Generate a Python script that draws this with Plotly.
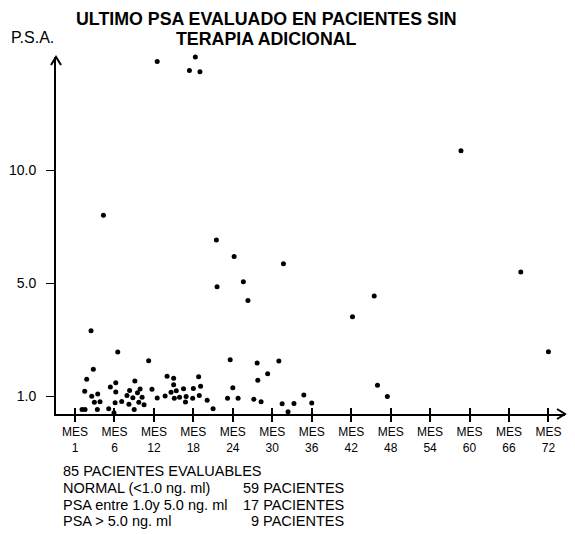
import numpy as np
import plotly.graph_objects as go

# Axis ticks (the chart uses equally spaced, non-linear tick positions)
month_ticks = [1, 6, 12, 18, 24, 30, 36, 42, 48, 54, 60, 66, 72]
x_tick_labels = [f"MES<br>{m}" for m in month_ticks]
psa_ticks = [1.0, 5.0, 10.0]
y_tick_labels = ["1.0", "5.0", "10.0"]

# Patients: month of last evaluation, last PSA value (ng/ml)
months = [12.5, 18.3, 17.4, 19.0, 4.6, 21.5, 24.2, 31.7, 25.6, 21.6, 26.3, 3.03,
          42.2, 45.5, 58.7, 67.8, 72.0, 46.0, 47.5,
          6.5, 11.2, 3.32, 2.48, 6.2, 9.1, 5.48, 2.23, 6.2, 9.9, 8.3, 3.12, 3.88,
          9.5, 7.9, 8.8, 10.2, 3.45, 4.17, 6.1, 7.1, 8.2, 9.7, 10.5, 2.27, 1.89,
          3.83, 5.27, 5.94, 9.0,
          23.6, 14.0, 15.0, 18.8, 15.0, 11.7, 16.5, 18.0, 19.1, 15.4, 14.6, 12.5,
          13.7, 15.1, 15.9, 16.9, 17.9, 18.9, 16.8, 20.1, 21.0, 23.2, 24.0,
          27.7, 31.0, 29.3, 27.8, 24.8, 27.2, 28.3, 31.5, 33.3, 34.8, 36.0, 32.4]
psa = [14.8, 15.0, 14.4, 14.35, 8.0, 6.9, 6.17, 5.85, 5.06, 4.87, 4.38, 3.31,
       3.81, 4.54, 10.85, 5.49, 2.57, 1.38, 0.98,
       2.56, 2.25, 1.95, 1.59, 1.47, 1.53, 1.32, 1.17, 1.14, 1.25, 1.20, 0.99, 1.07,
       1.12, 1.02, 0.94, 0.96, 0.78, 0.80, 0.76, 0.81, 0.71, 0.78, 0.69, 0.52, 0.52,
       0.52, 0.55, 0.41, 0.52,
       2.28, 1.70, 1.63, 1.68, 1.40, 1.24, 1.26, 1.27, 1.35, 1.19, 1.13, 0.93,
       1.00, 0.92, 0.96, 0.98, 0.92, 1.02, 0.79, 0.85, 0.55, 0.92, 1.29,
       2.17, 2.24, 1.79, 1.56, 0.92, 0.89, 0.80, 0.73, 0.74, 1.04, 0.75, 0.44]

summary_left = ["85 PACIENTES EVALUABLES", "NORMAL (<1.0 ng. ml)",
                "PSA entre 1.0y 5.0 ng. ml", "PSA > 5.0 ng. ml"]
summary_right = ["", "59 PACIENTES", "17 PACIENTES", "9 PACIENTES"]

# the chart's own scales: equal spacing between labelled ticks
x_pos = np.interp(months, month_ticks, np.arange(len(month_ticks)))
y_pos = np.interp(psa, [0.0, 1.0, 5.0, 10.0, 20.0], [-0.25, 0.0, 1.0, 2.0, 4.0])
y_tick_pos = np.interp(psa_ticks, [0.0, 1.0, 5.0, 10.0, 20.0], [-0.25, 0.0, 1.0, 2.0, 4.0])

FONT = "Liberation Sans, Arial, sans-serif"
XR = [-0.482, 12.42]
YR = [-0.159, 3.0]

fig = go.Figure()
fig.add_trace(go.Scatter(x=x_pos, y=y_pos, mode="markers",
                         marker=dict(size=5, color="black"),
                         cliponaxis=False, showlegend=False, hoverinfo="skip"))
fig.add_trace(go.Scatter(x=[], y=[], xaxis="x2", showlegend=False))

# the page has an 8px body margin, so the figure is 8px smaller than the window
fig.update_layout(
    template="none",
    width=567, height=526,
    margin=dict(l=48, r=10, t=49, b=120, autoexpand=False),
    paper_bgcolor="white", plot_bgcolor="white",
    font=dict(family=FONT, color="black"),
    xaxis=dict(range=XR, tickvals=list(range(len(month_ticks))), ticktext=x_tick_labels,
               ticks="outside", ticklen=6, tickwidth=1.5, tickcolor="black",
               showline=True, linewidth=2, linecolor="black", automargin=False,
               showgrid=False, zeroline=False, tickfont=dict(size=12)),
    xaxis2=dict(range=XR, overlaying="x", anchor="y", side="bottom",
                tickvals=list(range(len(month_ticks))), ticks="inside", ticklen=6,
                tickwidth=1.5, tickcolor="black", showticklabels=False, automargin=False,
                showgrid=False, zeroline=False, showline=False),
    yaxis=dict(range=YR, tickvals=list(y_tick_pos), ticktext=y_tick_labels,
               ticks="outside", ticklen=8, tickwidth=1, tickcolor="black",
               ticklabelstandoff=7, automargin=False,
               showline=True, linewidth=2, linecolor="black",
               showgrid=False, zeroline=False, tickfont=dict(size=14)),
)

# arrow heads of the axes (paper refs so they are not clipped)
fig.add_shape(type="path", xref="paper", yref="paper", xsizemode="pixel", ysizemode="pixel",
              xanchor=0, yanchor=1, path="M -5,-8 L 0,0 L 5,-8",
              line=dict(color="black", width=2))
fig.add_shape(type="path", xref="paper", yref="paper", xsizemode="pixel", ysizemode="pixel",
              xanchor=1, yanchor=0, path="M -8,5 L 0,0 L -8,-5",
              line=dict(color="black", width=2))

def py2paper(py):
    return (414 - py) / 357.0

def px2paper(px):
    return (px - 56) / 509.0

ann = [
    dict(text="<b>ULTIMO PSA EVALUADO EN PACIENTES SIN</b>", x=px2paper(266), y=py2paper(19),
         xanchor="center", yanchor="middle", font=dict(size=17.8)),
    dict(text="<b>TERAPIA ADICIONAL</b>", x=px2paper(266), y=py2paper(39),
         xanchor="center", yanchor="middle", font=dict(size=17.8)),
    dict(text="P.S.A.", x=px2paper(9), y=py2paper(38), xanchor="left", yanchor="middle",
         font=dict(size=16)),
    dict(text="0", x=px2paper(566), y=py2paper(400), xanchor="left", yanchor="middle",
         font=dict(size=12)),
]
line_y = [471, 488, 505, 521]
for i, (lt, rt) in enumerate(zip(summary_left, summary_right)):
    ann.append(dict(text=lt, x=px2paper(61), y=py2paper(line_y[i]), xanchor="left",
                    yanchor="middle", font=dict(size=14.5)))
    if rt:
        ann.append(dict(text=rt, x=px2paper(346), y=py2paper(line_y[i]), xanchor="right",
                        yanchor="middle", font=dict(size=14.5)))
for a in ann:
    a.update(xref="paper", yref="paper", showarrow=False)
    a["font"]["family"] = FONT
    a["font"]["color"] = "black"
fig.update_layout(annotations=ann)

fig.write_html("out.html")
